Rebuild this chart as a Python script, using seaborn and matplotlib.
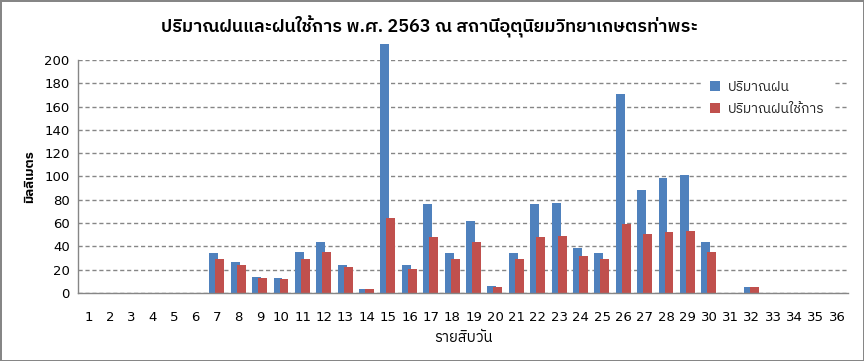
import matplotlib
matplotlib.use("Agg")
import numpy as np
import pandas as pd
import matplotlib.pyplot as plt
import seaborn as sns

# === data: 10-day periods of 2563 (B.E.) ===
periods = list(range(1, 37))
rain = [0, 0, 0, 0, 0, 0, 34, 27, 14, 13,
        35, 44, 24, 3, 214, 24, 76, 34, 62, 6,
        34, 76, 77, 39, 34, 171, 88, 99, 101, 44,
        0, 5, 0, 0, 0, 0]
eff_rain = [0, 0, 0, 0, 0, 0, 29, 24, 13, 12,
            29, 35, 22, 3, 64, 21, 48, 29, 44, 5,
            29, 48, 49, 32, 29, 59, 51, 52, 53, 35,
            0, 5, 0, 0, 0, 0]
labels = ["ปริมาณฝน", "ปริมาณฝนใช้การ"]
title = "ปริมาณฝนและฝนใช้การ พ.ศ. 2563 ณ สถานีอุตุนิยมวิทยาเกษตรท่าพระ"
xlabel = "รายสิบวัน"
ylabel = "มิลลิเมตร"

blue = "#4F81BD"
red = "#C0504D"
grey = "#868686"

sns.set_style("white")
plt.rcParams["font.family"] = ["DejaVu Sans", "IBM Plex Sans Thai"]
thai = ["IBM Plex Sans Thai"]

df = pd.DataFrame({"period": periods, "rain": rain, "eff": eff_rain})
df["x_rain"] = df["period"] - 0.15
df["x_eff"] = df["period"] + 0.13

fig = plt.figure(figsize=(8.64, 3.61), dpi=100)
fig.patch.set_edgecolor(grey)
fig.patch.set_linewidth(2)
ax = fig.add_axes([0.0903, 0.1884, 0.8912, 0.6454])

# bars overlap a bit, red drawn over blue (Excel style)
sns.barplot(data=df, x="x_rain", y="rain", native_scale=True, width=0.42,
            color=blue, saturation=1, label=labels[0], ax=ax, zorder=3)
sns.barplot(data=df, x="x_eff", y="eff", native_scale=True, width=0.42,
            color=red, saturation=1, label=labels[1], ax=ax, zorder=4)
for p in ax.patches:
    p.set_clip_on(False)
    p.set_linewidth(0)

ax.set_xlim(0.5, 36.5)
ax.set_ylim(0, 200)
ax.set_yticks(range(0, 201, 20))
ax.set_xticks(periods)
ax.set_xticklabels([str(p) for p in periods])
ax.set_xticks(np.arange(0.5, 37, 1), minor=True)
ax.tick_params(axis="x", which="major", length=0, pad=13, labelsize=9.5,
               labelcolor="black")
ax.tick_params(axis="x", which="minor", length=5, color=grey, width=1)
ax.tick_params(axis="y", length=4, color=grey, width=1, pad=2, labelsize=9.5,
               labelcolor="black")

ax.grid(axis="y", linestyle=(0, (3, 2)), color=grey, linewidth=1, zorder=0)
ax.set_axisbelow(True)
for s in ["top", "right"]:
    ax.spines[s].set_visible(False)
for s in ["left", "bottom"]:
    ax.spines[s].set_color(grey)
    ax.spines[s].set_linewidth(1)
    ax.spines[s].set_zorder(5)

ax.set_xlabel(xlabel, fontsize=10.5, family=thai, labelpad=5, color="black")
ax.set_ylabel(ylabel, fontsize=9.5, family=thai, labelpad=6,
              fontweight="bold", color="black")
fig.text(0.497, 0.925, title, ha="center", va="center", fontsize=13,
         family=thai, fontweight="semibold", color="black")

leg = ax.legend(loc="upper left", bbox_to_anchor=(0.803, 0.975), frameon=True,
                handlelength=0.7, handleheight=0.7,
                handletextpad=0.6, labelspacing=0.6, borderpad=0.5,
                prop={"family": thai, "size": 10})
leg.get_frame().set_edgecolor("white")
leg.get_frame().set_facecolor("white")
leg.get_frame().set_alpha(1)
leg.set_zorder(6)

fig.savefig("out.png", dpi=100, edgecolor=fig.get_edgecolor())
